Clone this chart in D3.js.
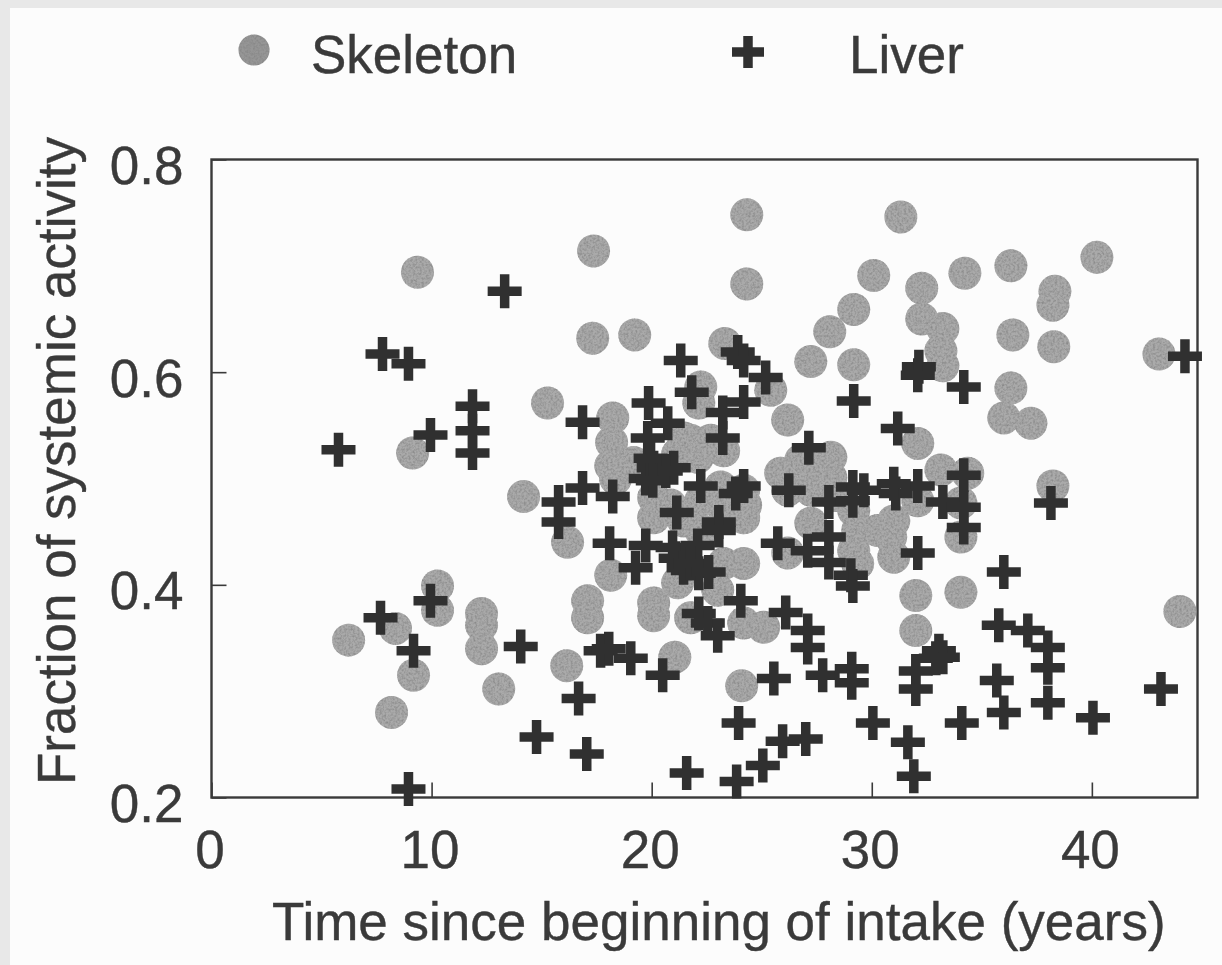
<!DOCTYPE html>
<html><head><meta charset="utf-8">
<script src="https://cdn.jsdelivr.net/npm/d3@7"></script>
<style>html,body{margin:0;padding:0;background:#e8e8e8;overflow:hidden}svg{display:block}</style>
</head><body><div id="chart"></div>
<script>
const skeletonX=[9.36,17.36,24.32,31.32,24.32,30.09,40.23,36.32,34.23,32.27,38.32,38.23,29.18,28.09,32.27,33.23,17.32,19.23,23.32,36.41,38.27,33.14,33.23,43.05,27.23,29.18,36.32,15.27,22.23,22.14,25.41,18.23,18.18,18.14,19.18,26.18,21.77,22.68,23.27,21.45,21.18,22.09,20.09,20.09,21.45,23.14,24.18,24.18,22.23,16.18,18.14,21.18,23.27,24.18,17.09,17.09,20.09,20.09,23.0,21.77,24.18,25.09,14.18,26.18,27.23,26.18,25.86,26.77,28.14,27.36,28.14,36.0,37.23,32.09,33.14,34.36,32.09,34.05,34.05,38.23,29.18,29.36,31.0,30.86,29.18,31.0,30.27,29.36,32.0,34.05,32.0,6.23,8.36,9.18,8.18,10.27,10.27,12.27,12.27,12.27,13.05,16.14,21.05,24.09,44.0,9.14,20.86,22.23,23.36,24.27,18.36,27.23,28.36];
const skeletonY=[.694,.714,.748,.746,.683,.691,.708,.700,.693,.679,.676,.663,.659,.638,.650,.641,.632,.635,.627,.635,.624,.620,.606,.617,.610,.607,.585,.571,.586,.571,.583,.557,.534,.512,.515,.555,.536,.536,.526,.538,.523,.520,.482,.463,.460,.492,.463,.489,.479,.440,.409,.402,.420,.420,.385,.369,.383,.371,.395,.369,.364,.360,.483,.430,.458,.489,.505,.517,.520,.498,.501,.557,.552,.533,.508,.505,.479,.477,.445,.493,.470,.451,.460,.445,.432,.426,.451,.420,.390,.393,.357,.348,.359,.315,.280,.399,.376,.373,.362,.340,.302,.324,.332,.305,.375,.524,.475,.451,.465,.475,.500,.489,.484];
const liverX=[13.32,7.77,8.95,5.77,9.95,11.86,11.86,11.86,21.32,21.82,16.86,19.86,20.73,19.82,23.23,23.23,24.18,25.18,23.91,24.18,16.86,15.77,15.77,18.23,19.73,20.09,21.0,22.23,24.18,23.82,26.23,21.14,23.05,23.05,18.09,19.73,19.27,20.95,22.09,21.09,22.14,21.45,24.05,22.14,22.55,23.0,26.09,27.09,25.73,27.09,29.18,32.14,32.09,34.18,31.18,27.14,28.05,29.14,29.14,29.64,31.09,32.09,33.23,34.18,34.18,34.18,38.14,28.05,28.05,29.05,29.14,32.09,36.0,35.77,37.09,38.0,38.0,43.14,44.23,35.68,38.0,36.0,40.05,34.09,30.05,31.64,31.91,23.95,23.86,25.05,25.95,27.0,21.59,17.05,14.77,16.68,14.05,20.5,19.05,17.68,18.05,7.68,9.95,9.18,8.95,27.09,27.77,29.09,29.09,25.55,32.0,32.0,33.05,32.91,33.23,19.95,20.64,20.05,21.77,22.59,31.0];
const liverY=[.676,.617,.608,.527,.541,.568,.545,.524,.611,.581,.553,.571,.552,.538,.538,.562,.572,.595,.619,.611,.491,.478,.459,.483,.500,.510,.510,.493,.493,.486,.489,.468,.459,.451,.439,.437,.416,.435,.437,.425,.411,.416,.385,.373,.364,.352,.374,.357,.439,.432,.573,.605,.597,.586,.547,.529,.478,.492,.479,.489,.486,.493,.478,.503,.473,.454,.477,.445,.421,.409,.399,.430,.412,.362,.357,.341,.322,.302,.615,.310,.289,.280,.275,.270,.270,.252,.220,.270,.215,.230,.253,.255,.223,.241,.257,.293,.342,.315,.331,.338,.340,.369,.385,.338,.208,.341,.315,.321,.308,.312,.302,.319,.338,.331,.332,.519,.507,.498,.420,.412,.495];
const xTicks=[0,10,20,30,40];
const yTicks=[0.2,0.4,0.6,0.8];
const legendLabels=["Skeleton","Liver"];
const xTitle="Time since beginning of intake (years)";
const yTitle="Fraction of systemic activity";

const W=1222,H=965,ink="#3a3a3a",font="'Liberation Sans',Arial,sans-serif",fs=53;
const x=d3.scaleLinear().domain([0,44.8]).range([211.5,1197.5]);
const y=d3.scaleLinear().domain([0.2,0.8]).range([797.5,159.5]);
const svg=d3.select("#chart").append("svg").attr("width",W).attr("height",H).style("filter","blur(0.7px)");
const defs=svg.append("defs");
const f=defs.append("filter").attr("id","speckle").attr("x","0").attr("y","0").attr("width","100%").attr("height","100%").attr("color-interpolation-filters","sRGB");
f.append("feTurbulence").attr("type","fractalNoise").attr("baseFrequency","0.45").attr("numOctaves",2).attr("seed",4).attr("result","n");
f.append("feColorMatrix").attr("in","n").attr("type","matrix").attr("values","0 0 0 0 0.5  0 0 0 0 0.5  0 0 0 0 0.5  1.6 0 0 0 -0.62").attr("result","m");
f.append("feComposite").attr("in","m").attr("in2","SourceAlpha").attr("operator","in").attr("result","c");
const mg=f.append("feMerge");mg.append("feMergeNode").attr("in","SourceGraphic");mg.append("feMergeNode").attr("in","c");

svg.append("rect").attr("x",10).attr("y",8).attr("width",W-10).attr("height",H-8).attr("fill","#fcfcfc");

const plus=(g,px,py,r)=>g.append("path").attr("transform",`translate(${px},${py})`).attr("d",`M${-r},0H${r}M0,${-r}V${r}`).attr("fill","none").attr("stroke","#303030").attr("stroke-width",9.5);
const label=s=>s.attr("font-family",font).attr("font-size",fs).attr("fill",ink).attr("stroke",ink).attr("stroke-width",0.4);

svg.append("rect").attr("x",x(0)).attr("y",y(0.8)).attr("width",x.range()[1]-x(0)).attr("height",y(0.2)-y(0.8)).attr("fill","none").attr("stroke",ink).attr("stroke-width",2.4);

const gx=svg.append("g").attr("transform",`translate(0,${y(0.2)})`).call(d3.axisBottom(x).tickValues(xTicks).tickSizeInner(-15).tickSizeOuter(0).tickPadding(0));
gx.select(".domain").remove();
gx.selectAll(".tick line").attr("stroke",ink).attr("stroke-width",1.6);
gx.selectAll(".tick text").attr("y",0).attr("dy",null).attr("transform","translate(-2,70)").call(label).text(d=>d);
const gy=svg.append("g").attr("transform",`translate(${x(0)},0)`).call(d3.axisLeft(y).tickValues(yTicks).tickSizeInner(-15).tickSizeOuter(0));
gy.select(".domain").remove();
gy.selectAll(".tick line").attr("stroke",ink).attr("stroke-width",1.6);
gy.selectAll(".tick text").attr("x",-28).attr("y",5).attr("dy","0.36em").call(label).text(d=>d.toFixed(1));

const skeleton=skeletonX.map((v,i)=>({x:v,y:skeletonY[i]}));
const liver=liverX.map((v,i)=>({x:v,y:liverY[i]}));
svg.append("g").attr("filter","url(#speckle)").selectAll("circle").data(skeleton).join("circle")
  .attr("cx",d=>x(d.x)).attr("cy",d=>y(d.y)).attr("r",16.5).attr("fill","#aaaaaa");
const gl=svg.append("g");
liver.forEach(d=>plus(gl,x(d.x),y(d.y),17));

svg.append("g").attr("filter","url(#speckle)").append("circle").attr("cx",254).attr("cy",50).attr("r",15.5).attr("fill","#969696");
plus(svg.append("g"),748,52,16);
label(svg.append("text").attr("x",311).attr("y",73)).text(legendLabels[0]);
label(svg.append("text").attr("x",849).attr("y",73)).text(legendLabels[1]);

label(svg.append("text").attr("x",272).attr("y",940)).text(xTitle);
label(svg.append("text").attr("transform","translate(75,785) rotate(-90)")).text(yTitle);
</script></body></html>
